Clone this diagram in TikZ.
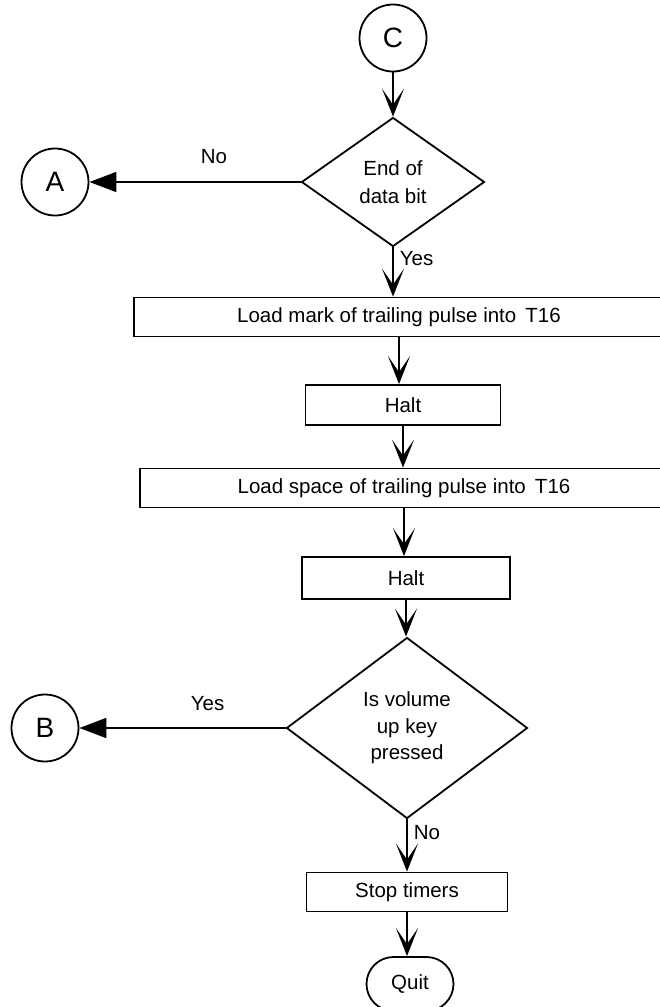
\documentclass[tikz,border=0pt]{standalone}
\usepackage{fontspec}
\setmainfont{Liberation Sans}
\usetikzlibrary{shapes.geometric,arrows.meta}
\begin{document}
\begin{tikzpicture}[x=1pt,y=-1pt,
  every node/.style={font=\fontsize{20.5}{28}\selectfont},
  lw/.style={line width=1.8pt},
  proc/.style={draw,lw,rectangle,inner sep=0pt,minimum height=39pt,align=center},
  dec/.style={draw,lw,diamond,inner sep=0pt,align=center},
  conn/.style={draw,lw,circle,minimum size=67pt,inner sep=0pt,font=\fontsize{28}{32}\selectfont},
  term/.style={draw,lw,rectangle,rounded corners=27pt,minimum width=87pt,minimum height=54pt,inner sep=0pt},
  flow/.style={lw,-{Stealth[length=28pt,width=22pt,inset=16pt]}},
  back/.style={lw,-{Triangle[length=27pt,width=20pt]}},
  lbl/.style={inner sep=0pt}]
\useasboundingbox (0,0) rectangle (659,1007);
\node[conn] (c) at (393,38) {C};
\node[dec,minimum width=183pt,minimum height=129pt] (d1) at (393,182) {End of\\data bit};
\node[conn] (a) at (55,182) {A};
\node[proc,minimum width=530pt] (p1) at (399,317) {Load mark of trailing pulse into\,\ T16};
\node[proc,minimum width=195pt,minimum height=40pt] (h1) at (403,405) {Halt};
\node[proc,minimum width=528pt] (p2) at (404,488) {Load space of trailing pulse into\,\ T16};
\node[proc,minimum width=208pt,minimum height=42pt] (h2) at (406,578) {Halt};
\node[dec,minimum width=241pt,minimum height=181pt,font=\fontsize{20.5}{26.5}\selectfont] (d2) at (407,728) {Is volume\\up key\\pressed};
\node[conn] (b) at (45,728) {B};
\node[proc,minimum width=201pt] (s) at (407,892) {Stop timers};
\node[term] (q) at (410,984) {Quit};

\draw[flow] (c) -- (d1);
\draw[back] (d1.west) -- (a.east) node[lbl,pos=0.41,above=17pt] {No};
\draw[flow] (d1.south) -- (d1.south |- p1.north) node[lbl,pos=0.23,right=6pt] {Yes};
\draw[flow] (p1.south) -- (p1.south |- h1.north);
\draw[flow] (h1.south) -- (h1.south |- p2.north);
\draw[flow] (p2.south) -- (p2.south |- h2.north);
\draw[flow] (h2.south) -- (h2.south |- d2.north);
\draw[back] (d2.west) -- (b.east) node[lbl,pos=0.378,above=16pt] {Yes};
\draw[flow] (d2.south) -- (d2.south |- s.north) node[lbl,pos=0.26,right=6pt] {No};
\draw[flow] (s.south) -- (s.south |- q.north);
\end{tikzpicture}
\end{document}
